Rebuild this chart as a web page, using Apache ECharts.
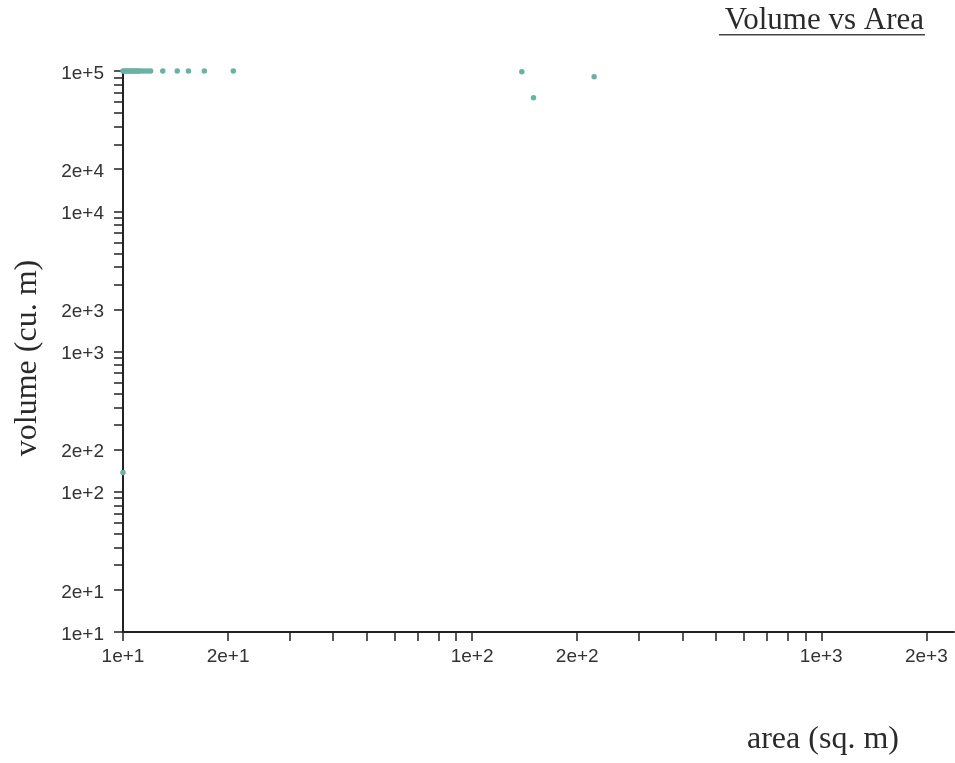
<!DOCTYPE html>
<html>
<head>
<meta charset="utf-8">
<title>Volume vs Area</title>
<script src="https://cdn.jsdelivr.net/npm/echarts@6/dist/echarts.min.js"></script>
<style>
html, body { margin: 0; padding: 0; background: #fff; }
#chart { width: 955px; height: 763px; }
</style>
</head>
<body>
<div id="chart"></div>
<script>
// 数据 (面积, 体积)
var areas = [10, 10, 10.1, 10.2, 10.3, 10.4, 10.5, 10.6, 10.7, 10.8, 10.9, 11, 11.1, 11.2, 11.4, 11.6, 11.8, 12, 13, 14.3, 15.4, 17.1, 20.7, 138.8, 149.9, 223.6];
var volumes = [137, 100000, 100000, 100000, 100000, 100000, 100000, 100000, 100000, 100000, 100000, 100000, 100000, 100000, 100000, 100000, 100000, 100000, 100000, 100000, 100000, 100000, 100000, 98900, 64500, 91000];

// 刻度
var xTicks = [10, 20, 30, 40, 50, 60, 70, 80, 90, 100, 200, 300, 400, 500, 600, 700, 800, 900, 1000, 2000];
var xLabels = [10, 20, 100, 200, 1000, 2000];
var yTicks = [10, 20, 30, 40, 50, 60, 70, 80, 90, 100, 200, 300, 400, 500, 600, 700, 800, 900,
	1000, 2000, 3000, 4000, 5000, 6000, 7000, 8000, 9000, 10000, 20000, 30000, 40000, 50000,
	60000, 70000, 80000, 90000, 100000];
var yLabels = [10, 20, 100, 200, 1000, 2000, 10000, 20000, 100000];

var points = [];
for (var i = 0; i < areas.length; i++) {
	points.push([areas[i], volumes[i]]);
}

// 1e+1 这种格式
function expFormat(v) {
	var e = Math.floor(Math.log10(v) + 1e-9);
	var m = Math.round(v / Math.pow(10, e));
	return m + 'e+' + e;
}

var serif = '"Liberation Serif", "Times New Roman", serif';
var sans = '"Liberation Sans", Arial, sans-serif';

var myChart = echarts.init(document.getElementById('chart'), null, { renderer: 'canvas' });

var options = {
	animation: false,
	title: {
		text: 'Volume vs Area',
		right: 31,
		top: 5,
		padding: 0,
		textStyle: {
			fontFamily: serif,
			fontSize: 31,
			fontWeight: 'normal',
			color: '#2a2a2a'
		}
	},
	graphic: [
		{ // 标题下划线
			type: 'rect',
			right: 30,
			top: 34,
			shape: { width: 206, height: 1.6 },
			style: { fill: '#444' }
		},
		{
			type: 'text',
			left: 747,
			top: 724,
			style: {
				text: 'area (sq. m)',
				font: '32px ' + serif,
				fill: '#2a2a2a'
			}
		},
		{
			type: 'text',
			x: 28,
			y: 358,
			rotation: Math.PI / 2,
			style: {
				text: 'volume (cu. m)',
				font: '32px ' + serif,
				fill: '#2a2a2a',
				align: 'center',
				verticalAlign: 'middle'
			}
		}
	],
	grid: {
		left: 123,
		right: 1,
		top: 71,
		bottom: 131,
		containLabel: false
	},
	xAxis: {
		type: 'log',
		logBase: 10,
		min: 10,
		max: 2400,
		axisLine: { show: true, onZero: false, lineStyle: { color: '#222', width: 2 } },
		axisTick: { show: true, length: 9, customValues: xTicks, lineStyle: { color: '#222', width: 1.5 } },
		minorTick: { show: false },
		splitLine: { show: false },
		axisLabel: {
			customValues: xLabels,
			margin: 15,
			fontFamily: sans,
			fontSize: 19,
			color: '#333',
			showMinLabel: true,
			showMaxLabel: true,
			formatter: function(v) { return expFormat(v); }
		}
	},
	yAxis: {
		type: 'log',
		logBase: 10,
		min: 10,
		max: 100000,
		axisLine: { show: true, onZero: false, lineStyle: { color: '#222', width: 2 } },
		axisTick: { show: true, length: 9, customValues: yTicks, lineStyle: { color: '#222', width: 1.5 } },
		minorTick: { show: false },
		splitLine: { show: false },
		axisLabel: {
			customValues: yLabels,
			margin: 19,
			fontFamily: sans,
			fontSize: 19,
			color: '#333',
			verticalAlign: 'top',
			lineHeight: 5,
			showMinLabel: true,
			showMaxLabel: true,
			formatter: function(v) { return expFormat(v); }
		}
	},
	series: [{
		name: 'volume',
		type: 'scatter',
		symbol: 'circle',
		symbolSize: 5.5,
		clip: false,
		data: points,
		itemStyle: { color: '#69b3a2', opacity: 1 }
	}]
};

myChart.setOption(options);
</script>
</body>
</html>
